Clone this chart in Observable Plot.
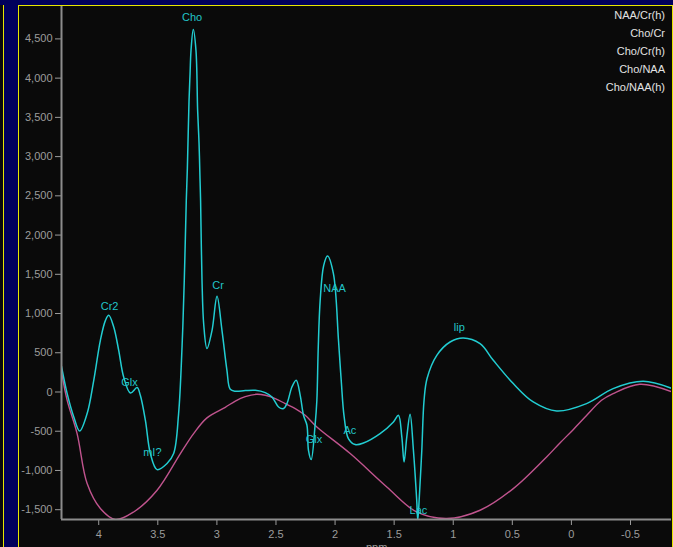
<!DOCTYPE html>
<html>
<head>
<meta charset="utf-8">
<script src="https://cdn.jsdelivr.net/npm/d3@7"></script>
<script src="https://cdn.jsdelivr.net/npm/@observablehq/plot@0.6"></script>
<style>
  html, body { margin: 0; padding: 0; }
  body { width: 673px; height: 547px; overflow: hidden; position: relative; background: #00005c; font-family: "Liberation Sans", Arial, sans-serif; }
  .bar { position: absolute; background: #e6e600; }
  #panel { position: absolute; left: 19px; top: 6px; width: 653px; height: 541px; background: #0a0a0a; }
  #chart { position: absolute; left: 19px; top: 6px; }
  #legend { position: absolute; right: 8px; top: 6px; text-align: right; color: #e2e2e2; font-size: 11px; line-height: 18px; }
  #xlabel { position: absolute; left: 366px; top: 541px; color: #9a9a9a; font-size: 11px; }
</style>
</head>
<body>
<div style="position:absolute;left:0;top:5px;width:3px;height:542px;background:#0a0a0a"></div>
<div class="bar" style="left:3px;top:5px;width:1px;height:542px"></div>
<div id="panel"></div>
<div class="bar" style="left:18px;top:5px;width:1px;height:542px"></div>
<div class="bar" style="left:18px;top:5px;width:655px;height:1px"></div>
<div class="bar" style="left:672px;top:5px;width:1px;height:542px"></div>
<div id="chart"></div>
<div id="legend"></div>
<div id="xlabel">ppm</div>
<script>
// Spectrum (cyan)
const spectrumPpm = [4.315,4.267,4.211,4.161,4.098,4.042,3.986,3.943,3.915,3.873,3.831,3.789,3.732,3.675,3.648,3.605,3.563,3.506,3.422,3.366,3.324,3.295,3.276,3.259,3.250,3.236,3.227,3.219,3.200,3.177,3.163,3.151,3.143,3.138,3.126,3.111,3.084,3.041,2.999,2.957,2.915,2.887,2.844,2.760,2.675,2.591,2.534,2.478,2.436,2.407,2.365,2.329,2.295,2.267,2.238,2.225,2.202,2.168,2.154,2.143,2.126,2.096,2.064,2.014,1.971,1.948,1.923,1.887,1.830,1.760,1.619,1.506,1.464,1.435,1.416,1.393,1.365,1.337,1.309,1.300,1.287,1.266,1.247,1.221,1.139,1.027,0.915,0.773,0.661,0.492,0.323,0.125,-0.128,-0.353,-0.607,-0.855];
const spectrumVal = [327,-20,-318,-497,-275,149,659,913,977,828,531,191,-13,56,-42,-361,-785,-989,-912,-785,-275,573,1423,2442,2850,3703,4060,4353,4620,4353,3589,3168,2722,2442,1423,850,553,786,1219,786,276,34,9,18,22,-8,-64,-191,-211,-148,64,149,-42,-297,-424,-743,-861,-403,-106,531,1168,1614,1733,1508,659,149,-318,-594,-670,-650,-530,-382,-297,-573,-892,-573,-284,-743,-1380,-1634,-1338,-743,-106,175,467,637,688,616,404,107,-127,-242,-148,43,136,43];

// Baseline (magenta)
const baselinePpm = [4.315,4.267,4.183,4.098,3.986,3.859,3.704,3.506,3.309,3.197,3.084,2.929,2.844,2.760,2.661,2.591,2.506,2.422,2.337,2.253,2.154,1.872,1.562,1.309,1.055,0.773,0.492,0.210,0.097,-0.015,-0.128,-0.255,-0.353,-0.579,-0.855];
const baselineVal = [255,-106,-530,-1167,-1485,-1625,-1529,-1252,-785,-530,-330,-195,-115,-60,-29,-42,-84,-148,-211,-297,-446,-785,-1210,-1529,-1613,-1507,-1231,-828,-650,-480,-300,-106,-20,98,0];

// Peak labels
const peakNames = ["Cho","Cr2","Glx","mI?","Cr","NAA","Glx","Ac","Lac","lip"];
const peakPpm   = [3.210,3.908,3.739,3.546,2.990,2.004,2.178,1.875,1.294,0.949];
const peakVal   = [4769,1094,124,-772,1357,1317,-611,-488,-1516,828];

// Legend entries
const legendItems = ["NAA/Cr(h)","Cho/Cr","Cho/Cr(h)","Cho/NAA","Cho/NAA(h)"];

// Axes
const xDomain = [4.315, -0.847];
const yDomain = [-1625, 4913];
const xTicks = [4,3.5,3,2.5,2,1.5,1,0.5,0,-0.5];
const yTicks = [-1500,-1000,-500,0,500,1000,1500,2000,2500,3000,3500,4000,4500];

const spectrum = spectrumPpm.map((p, i) => ({ppm: p, val: spectrumVal[i]}));
const baseline = baselinePpm.map((p, i) => ({ppm: p, val: baselineVal[i]}));
const peaks = peakNames.map((n, i) => ({name: n, ppm: peakPpm[i], val: peakVal[i]}));

const axisColor = "#8c8c8c";

const chart = Plot.plot({
  width: 653,
  height: 541,
  marginLeft: 42,
  marginRight: 1,
  marginTop: 0,
  marginBottom: 28,
  style: {background: "transparent", color: "#9c9c9c", fontFamily: "Liberation Sans, Arial, sans-serif", fontSize: "11px"},
  x: {domain: xDomain, ticks: xTicks, tickFormat: d => String(d), tickSize: 6, tickPadding: 5, label: null},
  y: {domain: yDomain, ticks: yTicks, tickFormat: d => d.toLocaleString("en-US"), tickSize: 6, tickPadding: 3, label: null},
  marks: [
    Plot.line(baseline, {x: "ppm", y: "val", stroke: "#c0548e", strokeWidth: 1.4, curve: "catmull-rom", clip: true}),
    Plot.line(spectrum, {x: "ppm", y: "val", stroke: "#22cdd2", strokeWidth: 1.5, curve: "catmull-rom", clip: true}),
    Plot.text(peaks, {x: "ppm", y: "val", text: "name", fill: "#22c4c8", fontSize: 11}),
    Plot.ruleY([yDomain[0]], {stroke: axisColor, strokeWidth: 2}),
    Plot.ruleX([xDomain[0]], {stroke: axisColor, strokeWidth: 2})
  ]
});
document.getElementById("chart").appendChild(chart);

const legend = document.getElementById("legend");
legendItems.forEach(t => {
  const d = document.createElement("div");
  d.textContent = t;
  legend.appendChild(d);
});
</script>
</body>
</html>
